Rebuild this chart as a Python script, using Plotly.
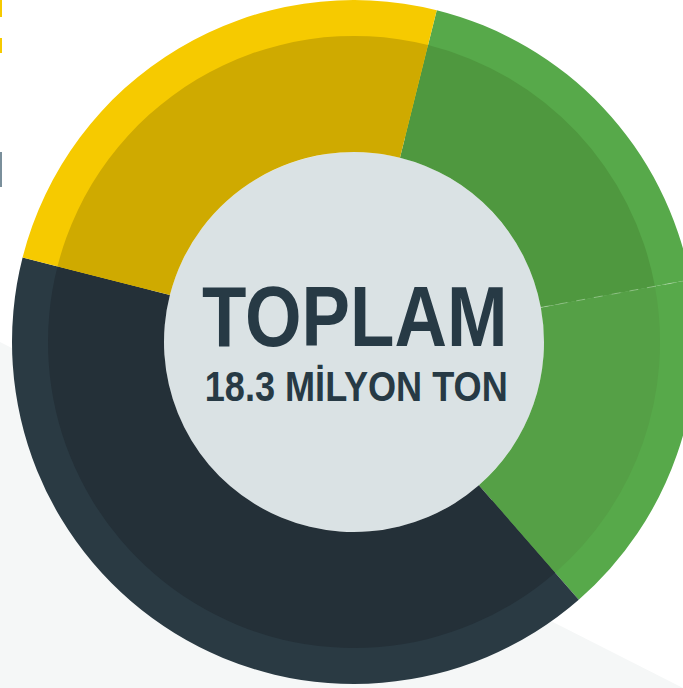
import numpy as np
import plotly.graph_objects as go

# Donnees (milyon ton)
categories = ["Yeşil 1", "Yeşil 2", "Koyu", "Sarı"]
values = [3.33, 3.02, 7.39, 4.56]
outer_colors = ["#57a94a", "#57a94a", "#2a3a43", "#f6ca00"]
inner_colors = ["#4f983f", "#55a046", "#243038", "#cfaa00"]
title_text = "TOPLAM"
sub_text = "18.3 MİLYON TON"
start_angle = 14

# Taille de la page (un peu plus large que la fenetre, le cercle depasse a droite)
W, H = 700, 688
cx, cy = 354, 342          # centre du donut en pixels (haut-gauche)
r_out, r_mid, r_hole = 342, 306, 190


def dom_x(r):
    return [(cx - r) / W, (cx + r) / W]


def dom_y(r):
    return [max(0, (H - cy - r) / H), min(1, (H - cy + r) / H)]


fig = go.Figure()

# anneau exterieur (plus clair)
fig.add_trace(go.Pie(labels=categories, values=values, sort=False,
                     direction="clockwise", rotation=start_angle,
                     hole=(r_hole + 20) / r_out, textinfo="none", hoverinfo="label+value",
                     marker=dict(colors=outer_colors, line=dict(width=0)),
                     domain=dict(x=dom_x(r_out), y=dom_y(r_out)),
                     showlegend=False))

# anneau interieur (plus fonce)
fig.add_trace(go.Pie(labels=categories, values=values, sort=False,
                     direction="clockwise", rotation=start_angle,
                     hole=r_hole / r_mid, textinfo="none", hoverinfo="label+value",
                     marker=dict(colors=inner_colors, line=dict(width=0)),
                     domain=dict(x=dom_x(r_mid), y=dom_y(r_mid)),
                     showlegend=False))

# fond gris clair en bas a gauche
fig.add_shape(type="path", xref="paper", yref="paper", layer="below",
              path="M 0 %f L %f 0 L 0 0 Z" % ((H - 342) / H, 683 / W),
              fillcolor="#f5f7f7", line=dict(width=0))

# disque central
fig.add_shape(type="circle", xref="paper", yref="paper", layer="below",
              x0=(cx - r_hole) / W, x1=(cx + r_hole) / W,
              y0=(H - cy - r_hole) / H, y1=(H - cy + r_hole) / H,
              fillcolor="#dae2e4", line=dict(width=0))

# fine ligne pointillee entre les deux verts
a = np.radians(start_angle + 360 * values[0] / sum(values))
fig.add_shape(type="line", xref="paper", yref="paper",
              x0=(cx + r_hole * np.sin(a)) / W, y0=(H - cy + r_hole * np.cos(a)) / H,
              x1=(cx + r_out * np.sin(a)) / W, y1=(H - cy + r_out * np.cos(a)) / H,
              line=dict(color="rgba(255,255,255,0.3)", width=1, dash="dash"))

# petits reperes sur le bord gauche
for y0, y1, col in [(0, 17, "#f6ca00"), (38, 53, "#f6ca00"), (152, 187, "#7a8f9b")]:
    fig.add_shape(type="rect", xref="paper", yref="paper",
                  x0=0, x1=2 / W, y0=(H - y1) / H, y1=(H - y0) / H,
                  fillcolor=col, line=dict(width=0))

# textes
fig.add_annotation(text="<b>" + title_text + "</b>", xref="paper", yref="paper",
                   x=355 / W, y=(H - 316) / H, showarrow=False,
                   font=dict(family="Liberation Sans, Arial, sans-serif",
                             size=86, color="#273a45"))
fig.add_annotation(text="<b>" + sub_text + "</b>", xref="paper", yref="paper",
                   x=356 / W, y=(H - 386) / H, showarrow=False,
                   font=dict(family="Liberation Sans, Arial, sans-serif",
                             size=42, color="#273a45"))

fig.update_layout(width=W, height=H, margin=dict(l=0, r=0, t=0, b=0),
                  paper_bgcolor="white", plot_bgcolor="white", showlegend=False)

# police etroite : on resserre le texte horizontalement
js = """
document.body.style.margin='0';
document.body.style.overflow='hidden';
var sx=[0.845,0.86];
document.querySelectorAll('.annotation-text').forEach(function(t,i){
  t.style.transformBox='fill-box';
  t.style.transformOrigin='center';
  t.style.transform='scaleX('+sx[i]+')';
});
"""
fig.write_html("out.html", config=dict(displayModeBar=False), post_script=js)
